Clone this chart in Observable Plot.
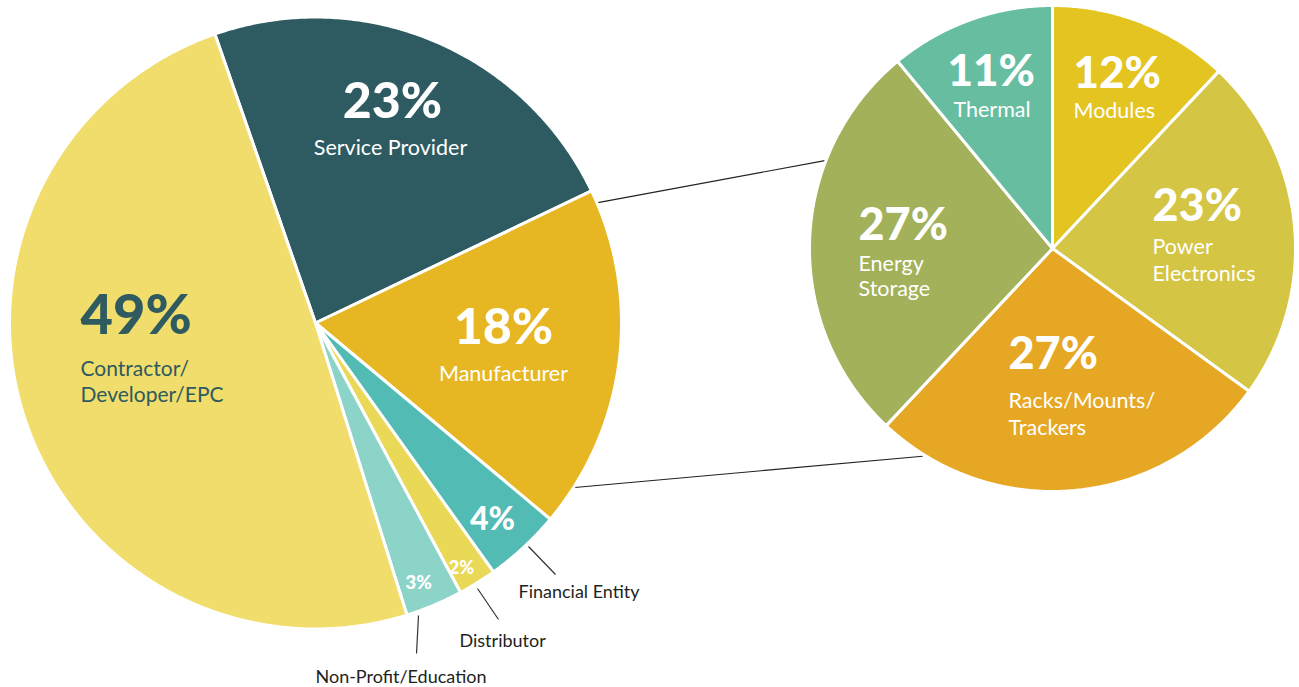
<!DOCTYPE html>
<html>
<head>
<meta charset="utf-8">
<script src="https://cdn.jsdelivr.net/npm/d3@7"></script>
<script src="https://cdn.jsdelivr.net/npm/@observablehq/plot@0.6"></script>
<style>
  html, body { margin: 0; padding: 0; background: #ffffff; }
  #chart svg { display: block; }
</style>
</head>
<body>
<div id="chart"></div>
<script>
// ---------- DATA ----------
const leftCategories = ["Service Provider", "Manufacturer", "Financial Entity", "Distributor", "Non-Profit/Education", "Contractor/Developer/EPC"];
const leftValues = [23, 18, 4, 2, 3, 49];
const leftLabels = ["Service Provider", "Manufacturer", "Financial Entity", "Distributor", "Non-Profit/Education", "Contractor/\nDeveloper/EPC"];

const rightCategories = ["Modules", "Power Electronics", "Racks/Mounts/Trackers", "Energy Storage", "Thermal"];
const rightValues = [12, 23, 27, 27, 11];
const rightLabels = ["Modules", "Power\nElectronics", "Racks/Mounts/\nTrackers", "Energy\nStorage", "Thermal"];

// ---------- STYLE / LAYOUT ----------
const leftColors = ["#2E5B61", "#E6B722", "#52BBB4", "#EAD857", "#8CD3C8", "#F0DD6B"];
const rightColors = ["#E4C420", "#D4C545", "#E6A724", "#A2B15A", "#67BDA0"];

const W = 1299, H = 687;
const leftPie = {cx: 315, cy: 322.5, r: 306, startDeg: -19.2};
const rightPie = {cx: 1052, cy: 248, r: 243, startDeg: 0};

// label anchors (pixel layout), keyed by category
const labelLayout = {
  "Service Provider":        {px: 392, py: 117, ps: 50, nx: 390, ny: 154, ns: 21.5, anchor: "middle", color: "#ffffff"},
  "Manufacturer":            {px: 503, py: 343, ps: 50, nx: 503, ny: 380, ns: 21.5, anchor: "middle", color: "#ffffff"},
  "Financial Entity":        {px: 492, py: 529, ps: 32, nx: 518, ny: 597, ns: 18, anchor: "middle", nanchor: "start", ncolor: "#231F20"},
  "Distributor":             {px: 461, py: 573, ps: 18, nx: 459, ny: 646, ns: 18, anchor: "middle", nanchor: "start", ncolor: "#231F20"},
  "Non-Profit/Education":    {px: 418, py: 588, ps: 19, nx: 486, ny: 682, ns: 18, anchor: "middle", nanchor: "end", ncolor: "#231F20"},
  "Contractor/Developer/EPC":{px: 80,  py: 333, ps: 56, nx: 80,  ny: 401, ns: 21, anchor: "start", color: "#2E5A60"},
  "Modules":                 {px: 1073, py: 87, ps: 44, nx: 1073, ny: 117, ns: 21.5, anchor: "start", color: "#ffffff"},
  "Power Electronics":       {px: 1152, py: 220, ps: 45, nx: 1152, ny: 280, ns: 21.5, anchor: "start", color: "#ffffff"},
  "Racks/Mounts/Trackers":   {px: 1008, py: 368, ps: 45, nx: 1008, ny: 434, ns: 21.5, anchor: "start", color: "#ffffff"},
  "Energy Storage":          {px: 858, py: 239, ps: 45, nx: 858, ny: 295, ns: 21.5, anchor: "start", color: "#ffffff", lh: 1.15},
  "Thermal":                 {px: 947, py: 85, ps: 44, nx: 953, ny: 116, ns: 21.5, anchor: "start", color: "#ffffff"}
};

// leader lines for small slices (pixel layout)
const leaders = [
  {x1: 528, y1: 546, x2: 555, y2: 574},
  {x1: 477, y1: 588, x2: 498, y2: 619},
  {x1: 418, y1: 615, x2: 416, y2: 653}
];

// connector lines between the pies: polar positions on each pie (deg, radius)
const connectors = [
  {a1: 66.9, r1: 307, a2: 291.1, r2: 244},
  {a1: 122.4, r1: 307, a2: 212, r2: 245}
];

// ---------- BUILD ----------
const rad = d => d * Math.PI / 180;
function polar(pie, deg, r) {
  return [pie.cx + r * Math.sin(rad(deg)), pie.cy - r * Math.cos(rad(deg))];
}
function sliceRows(cats, vals, pie) {
  const s0 = rad(pie.startDeg);
  const arcs = d3.pie().sort(null).value(d => d).startAngle(s0).endAngle(s0 + 2 * Math.PI)(vals);
  const rows = [];
  arcs.forEach((a, i) => {
    const key = cats[i];
    rows.push({key, x: pie.cx, y: pie.cy});
    const n = Math.max(4, Math.ceil((a.endAngle - a.startAngle) / (Math.PI / 360)));
    for (let k = 0; k <= n; k++) {
      const t = a.startAngle + (a.endAngle - a.startAngle) * k / n;
      rows.push({key, x: pie.cx + pie.r * Math.sin(t), y: pie.cy - pie.r * Math.cos(t)});
    }
  });
  return rows;
}

const rows = [...sliceRows(leftCategories, leftValues, leftPie), ...sliceRows(rightCategories, rightValues, rightPie)];

const linkRows = connectors.map(c => {
  const [x1, y1] = polar(leftPie, c.a1, c.r1);
  const [x2, y2] = polar(rightPie, c.a2, c.r2);
  return {x1, y1, x2, y2};
});

const textMarks = [];
function addLabels(cats, vals, labels) {
  cats.forEach((c, i) => {
    const L = labelLayout[c];
    textMarks.push(Plot.text([{x: L.px, y: L.py, t: `${vals[i]}%`}], {
      x: "x", y: "y", text: "t", fontSize: L.ps, fontWeight: 900,
      fill: L.color || "#ffffff", textAnchor: L.anchor, lineAnchor: "bottom"
    }));
    textMarks.push(Plot.text([{x: L.nx, y: L.ny, t: labels[i]}], {
      x: "x", y: "y", text: "t", fontSize: L.ns, fontWeight: 400,
      fill: L.ncolor || L.color || "#ffffff", textAnchor: L.nanchor || L.anchor,
      lineAnchor: "bottom", lineHeight: L.lh || 1.22
    }));
  });
}
addLabels(leftCategories, leftValues, leftLabels);
addLabels(rightCategories, rightValues, rightLabels);

const chart = Plot.plot({
  width: W, height: H, margin: 0,
  x: {domain: [0, W], range: [0, W], axis: null},
  y: {domain: [0, H], range: [0, H], axis: null},
  color: {domain: [...leftCategories, ...rightCategories], range: [...leftColors, ...rightColors]},
  style: {fontFamily: "Lato, 'Open Sans', sans-serif", background: "#ffffff"},
  marks: [
    Plot.link(linkRows, {x1: "x1", y1: "y1", x2: "x2", y2: "y2", stroke: "#222222", strokeWidth: 1.2}),
    Plot.link(leaders, {x1: "x1", y1: "y1", x2: "x2", y2: "y2", stroke: "#333333", strokeWidth: 1.2}),
    Plot.line(rows, {x: "x", y: "y", z: "key", fill: "key", stroke: "#ffffff", strokeWidth: 3, strokeLinejoin: "round", curve: "linear-closed"}),
    ...textMarks
  ]
});
document.getElementById("chart").appendChild(chart);
</script>
</body>
</html>
